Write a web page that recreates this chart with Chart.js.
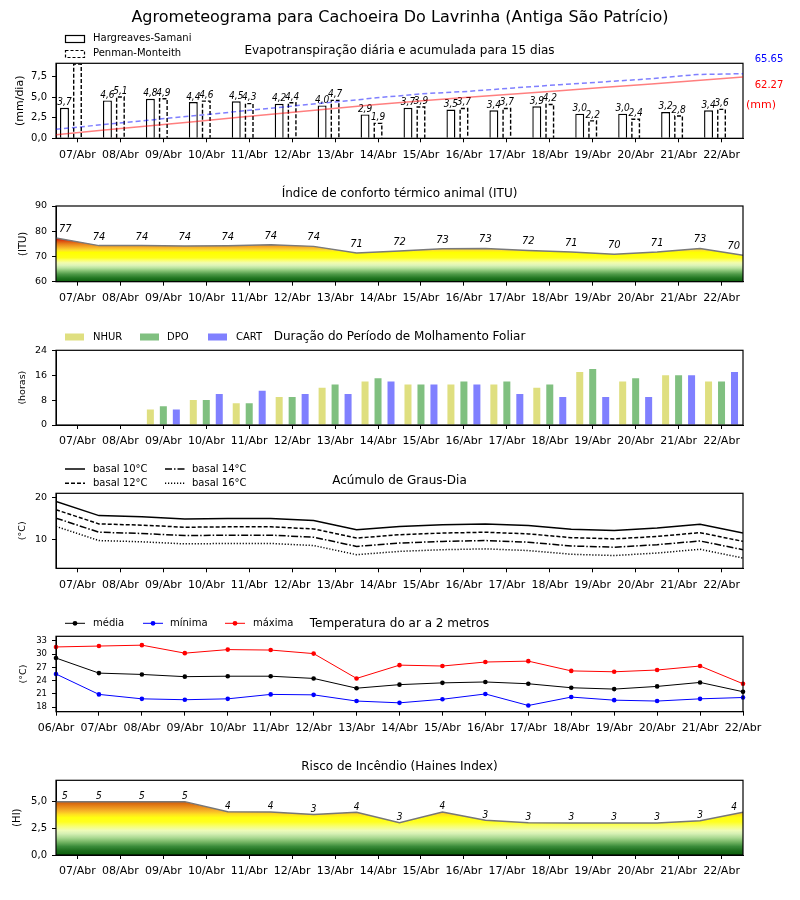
<!DOCTYPE html>
<html><head><meta charset="utf-8">
<script src="https://cdn.jsdelivr.net/npm/chart.js@4"></script>
<style>
html,body{margin:0;padding:0;background:#fff;}
#wrap{position:relative;width:800px;height:900px;background:#fff;}
#wrap canvas{position:absolute;left:0;top:0;}
</style></head><body>
<div id="wrap">
<canvas id="c1" width="800" height="900"></canvas>
<canvas id="c1b" width="800" height="900"></canvas>
<canvas id="c2" width="800" height="900"></canvas>
<canvas id="c3" width="800" height="900"></canvas>
<canvas id="c4" width="800" height="900"></canvas>
<canvas id="c5" width="800" height="900"></canvas>
<canvas id="c6" width="800" height="900"></canvas>
</div>
<script>
// ---------------- DATA ----------------
const days16 = ['07/Abr','08/Abr','09/Abr','10/Abr','11/Abr','12/Abr','13/Abr','14/Abr','15/Abr','16/Abr','17/Abr','18/Abr','19/Abr','20/Abr','21/Abr','22/Abr'];
const days17 = ['06/Abr','07/Abr','08/Abr','09/Abr','10/Abr','11/Abr','12/Abr','13/Abr','14/Abr','15/Abr','16/Abr','17/Abr','18/Abr','19/Abr','20/Abr','21/Abr','22/Abr'];

const etHS = [3.7,4.6,4.8,4.4,4.5,4.2,4.0,2.9,3.7,3.5,3.4,3.9,3.0,3.0,3.2,3.4];
const etPM = [9.1,5.1,4.9,4.6,4.3,4.4,4.7,1.9,3.9,3.7,3.7,4.2,2.2,2.4,2.8,3.6];
const accHS = [3.7,8.1,12.5,16.9,21.3,25.6,30.0,34.4,38.2,41.6,45.0,48.4,51.8,55.2,58.7,62.27];
const accPM = [9.1,13.8,18.3,22.9,27.4,32.0,36.5,41.1,45.3,47.7,51.2,54.5,57.5,60.5,64.8,65.65];
const accHSTotal = '62.27', accPMTotal = '65.65';
const etTicks = [0,2.5,5,7.5];

const itu = [77.3,74.3,74.3,74.1,74.2,74.6,74.0,71.4,72.2,73.1,73.2,72.4,71.8,70.9,71.8,73.2,70.5];
const ituTicks = [60,70,80,90];

const nhur = [0,0,5,8,7,9,12,14,13,13,13,12,17,14,16,14];
const dpo  = [0,0,6,8,7,9,13,15,13,14,14,13,18,15,16,14];
const cart = [0,0,5,10,11,10,10,14,13,13,10,9,9,9,16,17];
const wetTicks = [0,8,16,24];

const gd10 = [19.1,15.7,15.4,14.9,15.0,15.0,14.5,12.3,13.1,13.5,13.7,13.3,12.4,12.1,12.7,13.6,11.5];
const gd12 = [17.1,13.7,13.4,12.9,13.0,13.0,12.5,10.3,11.1,11.5,11.7,11.3,10.4,10.1,10.7,11.6,9.5];
const gd14 = [15.1,11.7,11.4,10.9,11.0,11.0,10.5,8.3,9.1,9.5,9.7,9.3,8.4,8.1,8.7,9.6,7.5];
const gd16 = [13.1,9.7,9.4,8.9,9.0,9.0,8.5,6.3,7.1,7.5,7.7,7.3,6.4,6.1,6.7,7.6,5.5];
const gdTicks = [10,20];

const tMed = [29.1,25.7,25.4,24.9,25.0,25.0,24.5,22.3,23.1,23.5,23.7,23.3,22.4,22.1,22.7,23.6,21.5];
const tMin = [25.5,20.9,19.9,19.7,19.9,20.9,20.8,19.4,19.0,19.8,21.0,18.4,20.3,19.6,19.4,19.9,20.2];
const tMax = [31.6,31.8,32.0,30.2,31.0,30.9,30.1,24.5,27.5,27.3,28.2,28.4,26.2,26.0,26.4,27.3,23.3];
const tTicks = [18,21,24,27,30,33];

const haines = [5.0,5.0,5.0,5.0,4.05,4.04,3.8,4.0,3.03,4.03,3.25,3.03,3.0,3.0,3.0,3.2,4.0];
const hiTicks = [0,2.5,5];

// ---------------- LAYOUT / STYLE ----------------
const H = 900, PL = 56, PR = 743, XMID = (PL + PR) / 2;
const FONT = "'DejaVu Sans', sans-serif";
const NARROW = "'Liberation Sans Narrow', 'DejaVu Sans Condensed', 'DejaVu Sans', sans-serif";

Chart.defaults.animation = false;
Chart.defaults.responsive = false;
Chart.defaults.color = '#000';
Chart.defaults.font.family = FONT;
Chart.defaults.plugins.legend.display = false;
Chart.defaults.plugins.tooltip.enabled = false;

const comma = v => Number(v).toFixed(1).replace('.', ',');
const pts = arr => arr.map((v, i) => ({x: i, y: v}));

function txt(ctx, s, x, y, o = {}) {
  ctx.save();
  ctx.font = `${o.style || ''} ${o.size || 12}px ${o.family || FONT}`;
  ctx.fillStyle = o.color || '#000';
  ctx.textAlign = o.align || 'center';
  ctx.textBaseline = o.base || 'middle';
  ctx.fillText(s, x, y);
  ctx.restore();
}

function yAxis(o) {
  const lh = o.titleSize * 1.2;
  return {
    type: 'linear', position: 'left', min: o.min, max: o.max,
    afterFit: s => { s.width = PL; },
    afterBuildTicks: s => { s.ticks = o.ticks.map(v => ({value: v})); },
    ticks: {font: {family: FONT, size: o.tickSize}, color: '#000', padding: 5, callback: o.fmt || (v => String(v))},
    grid: {drawOnChartArea: false, drawTicks: true, tickLength: 4, tickColor: '#000', color: '#000'},
    border: {display: true, color: '#000', width: 1},
    title: {display: true, text: o.title, color: '#000', font: {family: FONT, size: o.titleSize, lineHeight: 1.2},
            padding: {top: o.titleX - lh / 2, bottom: 0}}
  };
}
function xAxis(labels, offset, bottom) {
  return {
    type: 'category', labels, offset,
    afterFit: s => { s.height = H - bottom; },
    ticks: {font: {family: FONT, size: 11}, color: '#000', padding: 6, maxRotation: 0, minRotation: 0, autoSkip: false},
    grid: {offset: false, drawOnChartArea: false, drawTicks: true, tickLength: 4, tickColor: '#000', color: '#000'},
    border: {display: true, color: '#000', width: 1}
  };
}
const hiddenX = max => ({type: 'linear', display: false, min: 0, max, offset: false});
function pad(top) { return {padding: {top, left: 0, right: 800 - PR, bottom: 0}}; }

const frame = {
  id: 'frame',
  afterDatasetsDraw(chart) {
    const {ctx, chartArea: a} = chart;
    ctx.save(); ctx.strokeStyle = '#000'; ctx.lineWidth = 1.2;
    ctx.strokeRect(a.left, a.top, a.right - a.left, a.bottom - a.top);
    ctx.restore();
  }
};

function gradFill(stops, min, max) {
  return c => {
    const ch = c.chart;
    if (!ch.chartArea) return 'rgba(0,0,0,0)';
    const y = ch.scales.y;
    const g = ch.ctx.createLinearGradient(0, y.getPixelForValue(min), 0, y.getPixelForValue(max));
    stops.forEach(([v, col]) => g.addColorStop((v - min) / (max - min), col));
    return g;
  };
}

function pointLabels(chart, size, dy, margin) {
  const {ctx, chartArea: a} = chart;
  const meta = chart.getDatasetMeta(0);
  const vals = chart.data.datasets[0].data;
  ctx.save();
  ctx.font = `italic ${size}px ${NARROW}`;
  meta.data.forEach((el, i) => {
    const s = String(Math.floor(vals[i].y));
    const w = ctx.measureText(s).width;
    const x = Math.min(Math.max(el.x, a.left + margin + w / 2), a.right - margin - w / 2);
    txt(ctx, s, x, el.y - dy, {size, style: 'italic', family: NARROW, base: 'alphabetic'});
  });
  ctx.restore();
}

function legendLine(ctx, x, y, color, dash, lw, marker) {
  ctx.save();
  ctx.strokeStyle = color; ctx.lineWidth = lw; ctx.setLineDash(dash);
  ctx.beginPath(); ctx.moveTo(x, y); ctx.lineTo(x + 20, y); ctx.stroke();
  if (marker) { ctx.fillStyle = color; ctx.beginPath(); ctx.arc(x + 10, y, 2.4, 0, Math.PI * 2); ctx.fill(); }
  ctx.restore();
}

// ---------------- PANEL 1 (bars) ----------------
const p1Deco = {
  id: 'p1deco',
  afterDatasetDraw(chart, args) {
    if (args.index !== 1) return;
    const {ctx, chartArea: a} = chart;
    ctx.save();
    ctx.beginPath(); ctx.rect(a.left, a.top, a.right - a.left, a.bottom - a.top); ctx.clip();
    ctx.strokeStyle = '#000'; ctx.lineWidth = 1.4; ctx.setLineDash([4, 2]);
    args.meta.data.forEach(el => {
      const {x, y, base, width} = el.getProps(['x', 'y', 'base', 'width'], true);
      const l = x - width / 2 + 0.7, r = x + width / 2 - 0.7, t = y + 0.7;
      ctx.beginPath(); ctx.moveTo(l, base); ctx.lineTo(l, t); ctx.lineTo(r, t); ctx.lineTo(r, base); ctx.stroke();
    });
    ctx.restore();
  },
  afterDraw(chart) {
    const {ctx, chartArea: a} = chart;
    [0, 1].forEach(di => {
      const meta = chart.getDatasetMeta(di);
      const vals = chart.data.datasets[di].data;
      meta.data.forEach((el, i) => {
        if (el.y <= a.top + 1) return; // bar leaves the axes: label hidden
        txt(ctx, comma(vals[i]), el.x, el.y - 2.5, {size: 10, style: 'italic', family: NARROW, base: 'alphabetic'});
      });
    });
    ctx.save();
    ctx.strokeStyle = '#000'; ctx.lineWidth = 1.2;
    ctx.strokeRect(65.5, 35.5, 19, 7);
    ctx.setLineDash([3, 2]); ctx.strokeRect(65.5, 50.5, 19, 7);
    ctx.restore();
    txt(ctx, chart.data.datasets[0].label, 93, 38.7, {size: 10, align: 'left'});
    txt(ctx, chart.data.datasets[1].label, 93, 53.7, {size: 10, align: 'left'});
    txt(ctx, 'Evapotranspiração diária e acumulada para 15 dias', XMID, 51, {size: 12});
    txt(ctx, 'Agrometeograma para Cachoeira Do Lavrinha (Antiga São Patrício)', 400, 18, {size: 16});
    txt(ctx, accPMTotal, 769, 59, {size: 10, color: '#0000ff'});
    txt(ctx, accHSTotal, 769, 85.5, {size: 10, color: '#ff0000'});
    txt(ctx, '(mm)', 761, 105, {size: 11, color: '#ff0000'});
  }
};
new Chart(document.getElementById('c1'), {
  type: 'bar',
  data: {labels: days16, datasets: [
    {label: 'Hargreaves-Samani', data: etHS, backgroundColor: '#fff', borderColor: '#000', borderWidth: 1.4,
     barPercentage: 0.69, categoryPercentage: 0.907},
    {label: 'Penman-Monteith', data: etPM, backgroundColor: '#fff', borderWidth: 0,
     barPercentage: 0.69, categoryPercentage: 0.907},
    {label: '', data: etHS.map(() => null), barPercentage: 0.69, categoryPercentage: 0.907}
  ]},
  options: {
    layout: pad(63.3),
    scales: {
      x: xAxis(days16, true, 138.3),
      y: yAxis({min: 0, max: 9.12, ticks: etTicks, title: '(mm/dia)', titleSize: 11, titleX: 20, tickSize: 10, fmt: comma})
    }
  },
  plugins: [frame, p1Deco]
});
// ---------------- PANEL 1 (accumulated lines overlay) ----------------
new Chart(document.getElementById('c1b'), {
  type: 'line',
  data: {datasets: [
    {label: 'acumulado HS', data: pts(accHS), borderColor: 'rgba(255,0,0,0.5)', borderWidth: 1.5, pointRadius: 0, fill: false},
    {label: 'acumulado PM', data: pts(accPM), borderColor: 'rgba(0,0,255,0.5)', borderWidth: 1.5, borderDash: [5, 3], pointRadius: 0, fill: false}
  ]},
  options: {
    layout: {padding: {top: 63.3, left: PL, right: 800 - PR, bottom: H - 138.3}},
    scales: {
      x: hiddenX(15),
      y: {type: 'linear', display: false, min: 0, max: 76.2}
    }
  }
});

// ---------------- PANEL 2 (ITU) ----------------
const ituStops = [[60,'#0b5d0b'],[61.5,'#237823'],[63,'#4f9a48'],[64.3,'#86c274'],[65.4,'#b8e29e'],[66.5,'#def4b8'],[67.5,'#f2fcae'],[68.5,'#fbff6a'],[69.5,'#ffff18'],[71.6,'#ffff00'],[72.4,'#fde22a'],[73.2,'#f9c22c'],[74.0,'#f3a424'],[75.0,'#e8801a'],[76.0,'#dc5212'],[76.8,'#d22408'],[77.5,'#c80000'],[90,'#c80000']];
new Chart(document.getElementById('c2'), {
  type: 'line',
  data: {datasets: [
    {label: 'ITU', data: pts(itu), xAxisID: 'xl', borderColor: '#7a7a7a', borderWidth: 1.5, pointRadius: 0,
     fill: 'start', backgroundColor: gradFill(ituStops, 60, 90)}
  ]},
  options: {
    layout: pad(206),
    scales: {
      x: xAxis(days16, true, 281.7),
      y: yAxis({min: 60, max: 90, ticks: ituTicks, title: '(ITU)', titleSize: 10, titleX: 23.5, tickSize: 9.5}),
      xl: hiddenX(16)
    }
  },
  plugins: [frame, {id: 'p2deco', afterDraw(chart) {
    pointLabels(chart, 11, 6, 3);
    txt(chart.ctx, 'Índice de conforto térmico animal (ITU)', XMID, 193.5, {size: 12});
  }}]
});

// ---------------- PANEL 3 (molhamento) ----------------
new Chart(document.getElementById('c3'), {
  type: 'bar',
  data: {labels: days16, datasets: [
    {label: 'NHUR', data: nhur, backgroundColor: '#dfdf80', barPercentage: 0.54, categoryPercentage: 0.907},
    {label: 'DPO', data: dpo, backgroundColor: '#80c080', barPercentage: 0.54, categoryPercentage: 0.907},
    {label: 'CART', data: cart, backgroundColor: '#8080ff', barPercentage: 0.54, categoryPercentage: 0.907}
  ]},
  options: {
    layout: pad(350.3),
    scales: {
      x: xAxis(days16, true, 425),
      y: yAxis({min: 0, max: 24, ticks: wetTicks, title: '(horas)', titleSize: 9.5, titleX: 23, tickSize: 9.5})
    }
  },
  plugins: [frame, {id: 'p3deco', afterDraw(chart) {
    const ctx = chart.ctx;
    const items = [[65, 93, 0], [140, 167, 1], [208, 236, 2]];
    items.forEach(([rx, tx, di]) => {
      const ds = chart.data.datasets[di];
      ctx.save(); ctx.fillStyle = ds.backgroundColor; ctx.fillRect(rx, 333.5, 19, 7); ctx.restore();
      txt(ctx, ds.label, tx, 337, {size: 10, align: 'left'});
    });
    txt(ctx, 'Duração do Período de Molhamento Foliar', XMID, 337, {size: 12});
  }}]
});

// ---------------- PANEL 4 (graus-dia) ----------------
const gdStyles = [[], [4, 2], [7, 2, 1.5, 2], [1.2, 1.8]];
new Chart(document.getElementById('c4'), {
  type: 'line',
  data: {datasets: [
    {label: 'basal 10°C', data: pts(gd10), xAxisID: 'xl', borderColor: '#000', borderWidth: 1.5, borderDash: gdStyles[0], pointRadius: 0},
    {label: 'basal 12°C', data: pts(gd12), xAxisID: 'xl', borderColor: '#000', borderWidth: 1.5, borderDash: gdStyles[1], pointRadius: 0},
    {label: 'basal 14°C', data: pts(gd14), xAxisID: 'xl', borderColor: '#000', borderWidth: 1.5, borderDash: gdStyles[2], pointRadius: 0},
    {label: 'basal 16°C', data: pts(gd16), xAxisID: 'xl', borderColor: '#000', borderWidth: 1.5, borderDash: gdStyles[3], pointRadius: 0}
  ]},
  options: {
    layout: pad(493.3),
    scales: {
      x: xAxis(days16, true, 568.3),
      y: yAxis({min: 3.03, max: 21.06, ticks: gdTicks, title: '(°C)', titleSize: 9.5, titleX: 22.5, tickSize: 9.5}),
      xl: hiddenX(16)
    }
  },
  plugins: [frame, {id: 'p4deco', afterDraw(chart) {
    const ctx = chart.ctx;
    const pos = [[65, 469, 93], [65, 483.3, 93], [165, 469, 192], [165, 483.3, 192]];
    chart.data.datasets.forEach((ds, i) => {
      const [lx, ly, tx] = pos[i];
      legendLine(ctx, lx, ly, '#000', ds.borderDash, 1.5, false);
      txt(ctx, ds.label, tx, ly, {size: 10, align: 'left'});
    });
    txt(ctx, 'Acúmulo de Graus-Dia', XMID, 480.7, {size: 12});
  }}]
});

// ---------------- PANEL 5 (temperatura) ----------------
new Chart(document.getElementById('c5'), {
  type: 'line',
  data: {labels: days17, datasets: [
    {label: 'média', data: tMed, borderColor: '#000', backgroundColor: '#000', borderWidth: 1, pointRadius: 2.3, pointBorderWidth: 0},
    {label: 'mínima', data: tMin, borderColor: '#0000ff', backgroundColor: '#0000ff', borderWidth: 1, pointRadius: 2.3, pointBorderWidth: 0},
    {label: 'máxima', data: tMax, borderColor: '#ff0000', backgroundColor: '#ff0000', borderWidth: 1, pointRadius: 2.3, pointBorderWidth: 0}
  ]},
  options: {
    layout: pad(636.3),
    scales: {
      x: xAxis(days17, false, 711.7),
      y: yAxis({min: 17, max: 34, ticks: tTicks, title: '(°C)', titleSize: 9.5, titleX: 24, tickSize: 8.5})
    }
  },
  plugins: [frame, {id: 'p5deco', afterDraw(chart) {
    const ctx = chart.ctx;
    const pos = [[65, 93], [143, 170], [225, 253]];
    chart.data.datasets.forEach((ds, i) => {
      legendLine(ctx, pos[i][0], 623.3, ds.borderColor, [], 1, true);
      txt(ctx, ds.label, pos[i][1], 623.3, {size: 10, align: 'left'});
    });
    txt(ctx, 'Temperatura do ar a 2 metros', XMID, 623.5, {size: 12});
  }}]
});

// ---------------- PANEL 6 (Haines) ----------------
const hiStops = [[0,'#0a5e0a'],[0.4,'#1c6e1c'],[0.8,'#3a8c3a'],[1.2,'#72b462'],[1.6,'#a8d890'],[2.0,'#d6f0b4'],[2.3,'#eefcb8'],[2.7,'#f8ff70'],[3.1,'#ffff20'],[3.5,'#ffff10'],[3.8,'#ffe020'],[4.1,'#f8b828'],[4.4,'#ec9820'],[4.7,'#e07814'],[5.0,'#cc5a08'],[7,'#c04000']];
new Chart(document.getElementById('c6'), {
  type: 'line',
  data: {datasets: [
    {label: 'Haines', data: pts(haines), xAxisID: 'xl', borderColor: '#777', borderWidth: 1.5, pointRadius: 0,
     fill: 'start', backgroundColor: gradFill(hiStops, 0, 7)}
  ]},
  options: {
    layout: pad(780.3),
    scales: {
      x: xAxis(days16, true, 855),
      y: yAxis({min: 0, max: 7, ticks: hiTicks, title: '(HI)', titleSize: 10, titleX: 17, tickSize: 10, fmt: comma}),
      xl: hiddenX(16)
    }
  },
  plugins: [frame, {id: 'p6deco', afterDraw(chart) {
    pointLabels(chart, 10, 2.5, 6);
    txt(chart.ctx, 'Risco de Incêndio (Haines Index)', XMID, 767, {size: 12});
  }}]
});
</script>
</body></html>
